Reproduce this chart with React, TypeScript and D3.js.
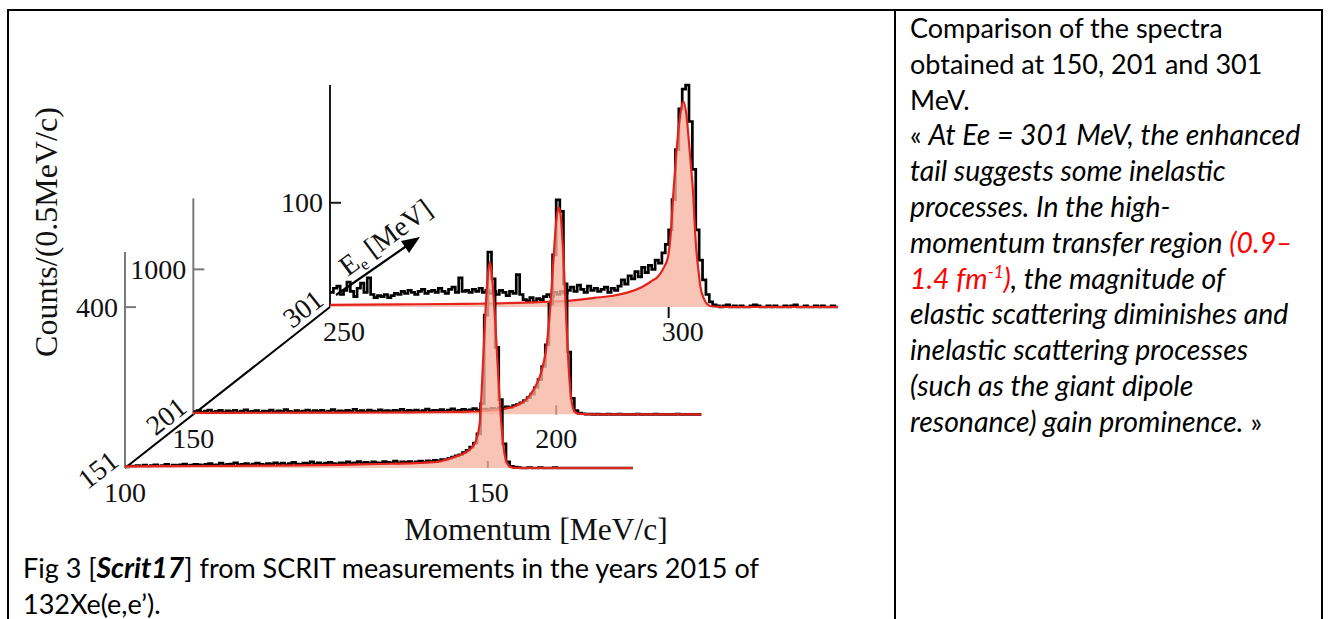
import * as d3 from "d3";

// beam energies of the three spectra (front to back)
const beamEnergies = [151, 201, 301];
const momentumStart = [100, 150, 250];
const momentumEnd = [170, 220, 325];
const momentumTicks = [[100, 150], [150, 200], [250, 300]];
const countTicks = [400, 1000, 100];
const countTops = [537, 1490, 213];
const binWidth = 0.5;

// measured counts per 0.5 MeV/c bin
const counts151 = [
  3, 5, 4, 6, 5, 7, 4, 6, 8, 5, 6, 9, 5, 7, 6, 8, 10, 6, 7, 9,
  8, 6, 9, 11, 7, 8, 12, 7, 9, 10, 13, 8, 9, 11, 7, 10, 12, 9, 8, 11,
  10, 13, 9, 12, 8, 11, 14, 10, 9, 12, 11, 15, 10, 13, 9, 12, 14, 11, 10, 13,
  12, 15, 11, 13, 16, 12, 14, 11, 15, 13, 12, 16, 14, 13, 17, 12, 15, 14, 16, 13,
  15, 17, 14, 18, 16, 19, 17, 21, 20, 24, 27, 30, 33, 38, 44, 52, 62, 85, 160, 380,
  537, 470, 300, 170, 60, 15, 4, 2, 1, 0, 0, 1, 0, 0, 1, 0, 0, 0, 1, 0,
  0, 0, 0, 0, 0, 0, 0, 0, 0, 0, 0, 0, 0, 0, 0, 0, 0, 0, 0, 0,
];
const counts201 = [
  18, 25, 14, 22, 30, 16, 20, 27, 13, 24, 19, 28, 15, 23, 31, 17, 21, 26, 14, 22,
  20, 29, 16, 24, 18, 32, 21, 15, 26, 19, 23, 30, 17, 25, 20, 28, 16, 22, 33, 19,
  24, 18, 27, 21, 35, 20, 25, 17, 29, 23, 19, 31, 22, 26, 18, 28, 24, 34, 21, 27,
  23, 30, 19, 26, 36, 22, 28, 25, 33, 21, 29, 38, 24, 27, 35, 26, 31, 40, 28, 33,
  36, 30, 42, 35, 45, 40, 52, 48, 60, 68, 80, 95, 115, 140, 185, 240, 330, 480, 760, 1100,
  1480, 1400, 900, 430, 110, 25, 8, 4, 2, 1, 0, 1, 0, 0, 1, 0, 0, 1, 0, 0,
  0, 0, 1, 0, 0, 0, 0, 1, 0, 0, 0, 0, 0, 1, 0, 0, 0, 0, 0, 0,
];
const counts301 = [
  14, 18, 20, 12, 16, 24, 15, 10, 18, 23, 14, 28, 12, 9, 11, 10, 12, 9, 11, 13,
  12, 15, 13, 16, 14, 12, 15, 17, 13, 15, 16, 14, 18, 15, 13, 17, 19, 14, 28, 15,
  16, 14, 17, 15, 18, 14, 16, 13, 15, 12, 16, 14, 11, 15, 13, 31, 12, 7, 6, 9,
  5, 8, 7, 10, 12, 10, 14, 12, 15, 13, 16, 19, 15, 21, 17, 14, 20, 16, 18, 15,
  17, 19, 14, 18, 16, 20, 26, 22, 30, 27, 34, 29, 38, 33, 40, 36, 45, 42, 52, 60,
  74, 103, 151, 190, 209, 213, 178, 132, 74, 45, 26, 12, 5, 2, 1, 0, 1, 2, 0, 1,
  0, 1, 0, 0, 1, 2, 1, 0, 0, 1, 0, 1, 0, 0, 1, 0, 1, 2, 0, 0,
  1, 0, 0, 1, 0, 1, 0, 0, 1, 0,
];

// fitted curves [momentum, counts]
const fit151: [number, number][] = [
  [100, 4], [110, 5], [120, 6], [130, 8], [135, 10], [140, 12], [143, 15], [145, 25],
  [146.5, 35], [147.5, 46], [148.3, 65], [148.9, 115], [149.3, 250], [149.7, 400],
  [150.0, 480], [150.3, 512], [150.6, 470], [151.0, 370], [151.4, 240], [151.7, 150],
  [152.0, 80], [152.3, 35], [152.7, 10], [153.2, 2], [154, 0], [170, 0],
];
const fit201: [number, number][] = [
  [150, 10], [160, 11], [170, 12], [180, 14], [185, 16], [188, 19], [190, 23],
  [192.5, 35], [194.5, 60], [196, 110], [197, 180], [198, 300], [198.7, 480],
  [199.2, 750], [199.6, 1050], [200, 1330], [200.3, 1430], [200.6, 1380], [201, 1080],
  [201.4, 650], [201.8, 260], [202.2, 70], [202.6, 15], [203.2, 3], [205, 0], [220, 0],
];
const fit301: [number, number][] = [
  [250, 2], [260, 2.5], [270, 3], [275, 3.5], [280, 4.5], [285, 5.8], [289, 8.7],
  [292, 11], [294, 14], [296, 19], [297.5, 25], [298.4, 29], [299.3, 38], [299.9, 48],
  [300.3, 70], [300.7, 110], [301.1, 145], [301.5, 173], [301.9, 192], [302.2, 197],
  [302.6, 185], [303.0, 158], [303.3, 135], [303.6, 110], [304.0, 62], [304.4, 35],
  [304.7, 19], [305.2, 8], [305.8, 2], [306.5, 0.5], [310, 0], [325, 0],
];

const allCounts = [counts151, counts201, counts301];
const allFits = [fit151, fit201, fit301];

// layout
const W = 1332;
const H = 619;
const rowLen = 508;
const axisLens = [216, 216, 222];
const tickDir = [-7, -9, 11];
const labelDx = [0, 0, 14];
const originX = d3.scaleLinear().domain([151, 301]).range([125, 330]);
const originY = d3.scaleLinear().domain([151, 301]).range([468, 307]);

const serif = "'Liberation Serif', 'Times New Roman', serif";
const sans = "Lato, 'Noto Sans', sans-serif";
const red = "#e3231c";
const textSize = 27;
const italicSize = 28.4;

function Row({ i }: { i: number }) {
  const E = beamEnergies[i];
  const ox = originX(E);
  const oy = originY(E);
  const x = d3.scaleLinear().domain([momentumStart[i], momentumEnd[i]]).range([ox, ox + rowLen]);
  const y = d3.scaleLinear().domain([0, countTops[i]]).range([oy, oy - axisLens[i]]);
  const counts = allCounts[i];
  const hist: [number, number][] = counts.map((c, k) => [momentumStart[i] + k * binWidth, c]);
  hist.push([momentumStart[i] + counts.length * binWidth, counts[counts.length - 1]]);
  const histLine = d3.line<[number, number]>().x((d) => x(d[0])).y((d) => y(d[1])).curve(d3.curveStepAfter);
  const fitLine = d3.line<[number, number]>().x((d) => x(d[0])).y((d) => y(d[1])).curve(d3.curveMonotoneX);
  const fitArea = d3.area<[number, number]>().x((d) => x(d[0])).y0(oy).y1((d) => y(d[1])).curve(d3.curveMonotoneX);
  const axisColor = i === 2 ? "#1a1a1a" : "#7a7a7a";
  const t = momentumTicks[i][1];
  return (
    <g>
      <line x1={ox} x2={ox} y1={y(0)} y2={y(countTops[i])} stroke={axisColor} strokeWidth={2} />
      <line x1={ox} x2={ox + 11} y1={y(countTicks[i])} y2={y(countTicks[i])} stroke={axisColor} strokeWidth={2} />
      <text x={ox - 7} y={y(countTicks[i])} dy="0.34em" textAnchor="end" fontFamily={serif} fontSize={28} fill="#111">
        {countTicks[i]}
      </text>
      <line x1={x(t)} x2={x(t)} y1={oy} y2={oy + tickDir[i]} stroke="#111" strokeWidth={2} />
      <path d={histLine(hist) || ""} fill="none" stroke="#000" strokeWidth={2.7} />
      <path d={fitArea(allFits[i]) || ""} fill="#f6b4a0" fillOpacity={0.78} />
      <path d={fitLine(allFits[i]) || ""} fill="none" stroke={red} strokeWidth={2.2} />
      {momentumTicks[i].map((v) => (
        <text key={v} x={x(v) + labelDx[i]} y={oy + 34} textAnchor="middle" fontFamily={serif} fontSize={28} fill="#111">
          {v}
        </text>
      ))}
      <text
        transform={`translate(${ox - 27},${oy + 2}) rotate(-38)`}
        dy="0.33em"
        textAnchor="middle"
        fontFamily={serif}
        fontSize={28}
        fill="#111"
      >
        {E}
      </text>
    </g>
  );
}

const lineY = (k: number) => 38 + k * 35.8;

export default function App() {
  const o0 = [originX(151), originY(151)];
  const o1 = [originX(301), originY(301)];
  return (
    <svg width={W} height={H} style={{ position: "absolute", left: 0, top: 0, background: "#fff" }}>
      {/* table borders */}
      <g stroke="#000" strokeWidth={2}>
        <line x1={8} x2={1323} y1={10} y2={10} />
        <line x1={8} x2={8} y1={9} y2={H} />
        <line x1={895} x2={895} y1={9} y2={H} />
        <line x1={1322} x2={1322} y1={9} y2={H} />
      </g>

      {/* depth axis */}
      <line x1={o0[0]} y1={o0[1]} x2={o1[0]} y2={o1[1]} stroke="#000" strokeWidth={2} />
      <line x1={336} y1={295} x2={408} y2={245} stroke="#000" strokeWidth={2.2} />
      <path d="M420,237 L401,241 L409,253 Z" fill="#000" />
      <text transform="translate(391,245) rotate(-36.5)" textAnchor="middle" fontFamily={serif} fontSize={28} fill="#111">
        E<tspan fontSize={17} dy={5}>e</tspan>
        <tspan dy={-5}> [MeV]</tspan>
      </text>

      {[2, 1, 0].map((i) => (
        <Row key={i} i={i} />
      ))}

      <text transform="translate(57,232) rotate(-90)" textAnchor="middle" fontFamily={serif} fontSize={32} fill="#111">
        Counts/(0.5MeV/c)
      </text>
      <text x={536} y={540} textAnchor="middle" fontFamily={serif} fontSize={31.5} fill="#111">
        Momentum [MeV/c]
      </text>

      {/* caption */}
      <g fontFamily={sans} fontSize={textSize} fill="#000">
        <text x={23} y={578}>
          Fig 3 [<tspan fontWeight="bold" fontStyle="italic" fontSize={italicSize}>Scrit17</tspan>] from SCRIT measurements in the years 2015 of
        </text>
        <text x={23} y={614}>132Xe(e,e’).</text>
      </g>

      {/* side text */}
      <g fontFamily={sans} fontSize={textSize} fill="#000">
        <text x={910} y={lineY(0)}>Comparison of the spectra</text>
        <text x={910} y={lineY(1)}>obtained at 150, 201 and 301</text>
        <text x={910} y={lineY(2)}>MeV.</text>
        <text x={910} y={lineY(3)}>
          « <tspan fontStyle="italic" fontSize={italicSize}>At Ee = 301 MeV, the enhanced</tspan>
        </text>
        <g fontStyle="italic" fontSize={italicSize}>
          <text x={910} y={lineY(4)}>tail suggests some inelastic</text>
          <text x={910} y={lineY(5)}>processes. In the high-</text>
          <text x={910} y={lineY(6)}>
            momentum transfer region <tspan fill="#ff0000">(0.9–</tspan>
          </text>
          <text x={910} y={lineY(7)}>
            <tspan fill="#ff0000">1.4 fm</tspan>
            <tspan fill="#ff0000" fontSize={17} dy={-11}>-1</tspan>
            <tspan fill="#ff0000" dy={11}>)</tspan>, the magnitude of
          </text>
          <text x={910} y={lineY(8)}>elastic scattering diminishes and</text>
          <text x={910} y={lineY(9)}>inelastic scattering processes</text>
          <text x={910} y={lineY(10)}>(such as the giant dipole</text>
        </g>
        <text x={910} y={lineY(11)}>
          <tspan fontStyle="italic" fontSize={italicSize}>resonance) gain prominence.</tspan> »
        </text>
      </g>
    </svg>
  );
}
